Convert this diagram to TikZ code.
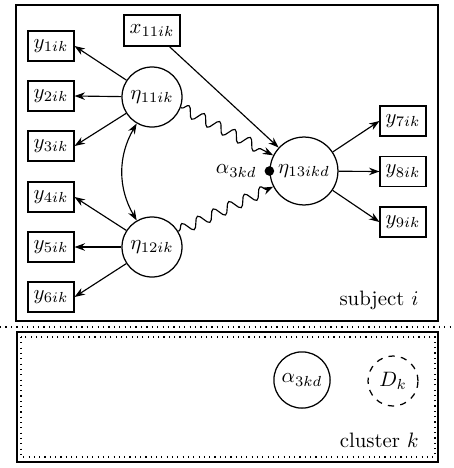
\documentclass[tikz,border=0pt]{standalone}
\usetikzlibrary{arrows.meta,decorations.pathmorphing}
\begin{document}
\begin{tikzpicture}[x=0.48pt,y=0.48pt,
  obs/.style={draw,line width=0.6pt,minimum width=22pt,minimum height=14.4pt,inner sep=1pt},
  lat/.style={draw,circle,line width=0.6pt,minimum size=28.8pt,inner sep=0pt},
  arr/.style={-{Stealth[length=5pt,width=3.6pt]},line width=0.55pt},
  wavy/.style={arr,decorate,decoration={snake,segment length=8.3pt,amplitude=2.6pt,post length=3pt,pre length=0.5pt}},
  frame/.style={draw,line width=0.8pt}]
\useasboundingbox (0,0) rectangle (454,-468);
% frames
\draw[frame] (16,-5) rectangle (438,-321);
\draw[dotted,line width=0.6pt] (0,-327) -- (454,-327);
\draw[frame] (17,-332) rectangle (438,-462);
\draw[dotted,line width=0.55pt] (21,-337) rectangle (435,-457);
% observed
\node[obs] (y1) at (51,-46) {$y_{1ik}$};
\node[obs] (y2) at (51,-96) {$y_{2ik}$};
\node[obs] (y3) at (51,-146) {$y_{3ik}$};
\node[obs] (y4) at (51,-197) {$y_{4ik}$};
\node[obs] (y5) at (51,-247) {$y_{5ik}$};
\node[obs] (y6) at (51,-297) {$y_{6ik}$};
\node[obs,minimum width=26.9pt,minimum height=14.9pt] (x11) at (152,-30.5) {$x_{11ik}$};
\node[obs] (y7) at (403,-121) {$y_{7ik}$};
\node[obs] (y8) at (403,-171.5) {$y_{8ik}$};
\node[obs] (y9) at (403,-222) {$y_{9ik}$};
% latent
\node[lat] (e11) at (152,-97) {$\eta_{11ik}$};
\node[lat] (e12) at (152,-247) {$\eta_{12ik}$};
\node[lat,minimum size=32.6pt] (e13) at (304,-171) {$\eta_{13ikd}$};
\node[lat,minimum size=27pt] (a3) at (302,-380) {$\alpha_{3kd}$};
\node[lat,dashed,minimum size=24pt] (dk) at (393,-381) {$D_k$};
% dot
\fill (e13.west) circle (2.3pt);
\node[anchor=east,inner sep=2pt] (alab) at ([xshift=-4pt]e13.west) {$\alpha_{3kd}$};
% labels
\node[anchor=east,inner sep=0pt] (subj) at (419,-300) {subject $i$};
\node[anchor=east,inner sep=0pt] (clus) at (419,-440) {cluster $k$};
% loadings
\draw[arr] (e11) -- (y1.east);
\draw[arr] (e11) -- (y2.east);
\draw[arr] (e11) -- (y3.east);
\draw[arr] (e12) -- (y4.east);
\draw[arr] (e12) -- (y5.east);
\draw[arr] (e12) -- (y6.east);
\draw[arr] (e13) -- (y7.west);
\draw[arr] (e13) -- (y8.west);
\draw[arr] (e13) -- (y9.west);
% covariance
\draw[{Stealth[length=5pt,width=3.6pt]}-{Stealth[length=5pt,width=3.6pt]},line width=0.55pt]
  (e11.240) to[out=240,in=120] (e12.120);
% regressions
\draw[arr] (x11) -- (e13);
\draw[wavy] (e11.-20) -- (e13.153);
\draw[wavy] (e12.31) -- (e13.207);
\end{tikzpicture}
\end{document}
